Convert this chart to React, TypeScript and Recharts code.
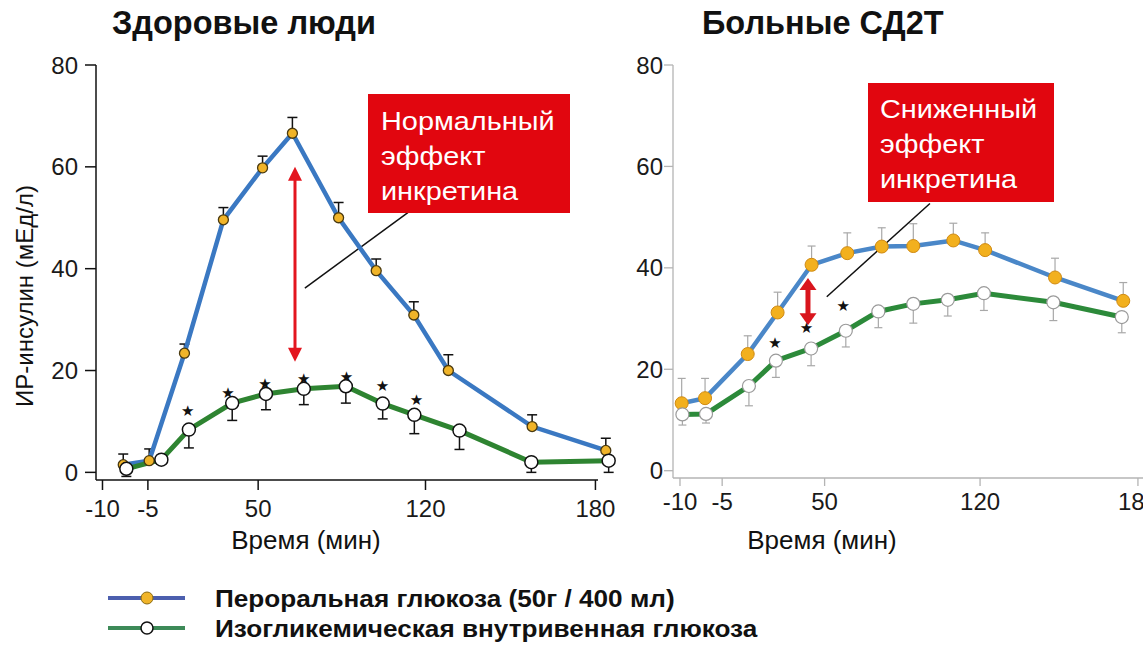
import React from "react"
import { ComposedChart, Line, XAxis, YAxis, ErrorBar, Scatter, ReferenceLine } from "recharts"

const FONT = "'Liberation Sans', Arial, Helvetica, sans-serif"

// ось времени нарисована неравномерно: подписи стоят не на своих минутах
const xTicks = [-10, 7.5, 50, 114.5, 180]
const xTickLabels = ["-10", "-5", "50", "120", "180"]
const yTicks = [0, 20, 40, 60, 80]

// Здоровые люди: пероральная глюкоза
const healthyOralTime = [-2, 8, 21.6, 36.6, 51.7, 63.2, 81, 95.5, 110, 123.3, 155.6, 184]
const healthyOralValue = [1.5, 2.3, 23.4, 49.6, 59.8, 66.6, 50, 39.6, 30.9, 20, 9, 4.3]
const healthyOralErr = [2.1, 2.3, 1.8, 2.4, 2.3, 3.1, 3, 2.3, 2.6, 3.1, 2.3, 2.4]

// Здоровые люди: изогликемическая в/в глюкоза
const healthyIvTime = [-0.8, 12.7, 23.3, 40, 53, 67.6, 83.8, 98, 110.2, 127.6, 155.3, 185.1]
const healthyIvValue = [0.7, 2.5, 8.4, 13.6, 15.4, 16.4, 16.9, 13.5, 11.3, 8.2, 2, 2.3]
const healthyIvErr = [1.5, 0.8, 3.6, 3.4, 3.1, 3.1, 3.3, 3, 3.7, 3.7, 2, 2.3]

const healthyStarTime = [22.9, 38.4, 52.6, 67.6, 84, 97.9, 111]
const healthyStarValue = [12, 15.6, 17.4, 18.3, 18.7, 16.9, 14.3]

// Больные СД2Т
const diabetesOralTime = [-9.3, 0.4, 18.1, 30.5, 44.6, 59.4, 73.7, 86.8, 103.4, 116.6, 145.6, 173.9]
const diabetesOralValue = [13.3, 14.3, 23, 31.2, 40.6, 42.9, 44.2, 44.3, 45.4, 43.5, 38.1, 33.5]
const diabetesOralErr = [4.9, 3.9, 3.6, 4, 3.7, 4, 3.7, 4.4, 3.4, 3.4, 3.8, 3.6]

const diabetesIvTime = [-9, 0.8, 18.6, 29.8, 44.4, 58.8, 72.3, 86.8, 101.1, 116.1, 144.9, 173.3]
const diabetesIvValue = [11.1, 11.2, 16.7, 21.7, 24.1, 27.6, 31.4, 32.9, 33.7, 35, 33.2, 30.3]
const diabetesIvErr = [2.1, 1.8, 3.9, 3.3, 3.4, 3.2, 3.2, 3.8, 3.2, 3.4, 3.6, 3.1]

const diabetesStarTime = [29.4, 42.5, 57.7]
const diabetesStarValue = [25.1, 28.1, 32.4]

// стрелки и выноски (в единицах осей)
const healthyArrow = { t: 64.2, from: 21.7, to: 60 }
const healthyPointer = [{ x: 68, y: 36.2 }, { x: 107.7, y: 51 }]
const diabetesArrow = { t: 43.1, from: 28.7, to: 38 }
const diabetesPointer = [{ x: 50.9, y: 34.3 }, { x: 93.7, y: 52.7 }]

type Row = { t: number; v: number; err?: number | number[] }

function rows(time: number[], value: number[], err?: (number | number[])[]): Row[] {
	return time.map((t, i) => ({ t, v: value[i], err: err ? err[i] : undefined }))
}

const Star = (p: any) => (
	<text x={p.cx} y={p.cy} textAnchor="middle" dominantBaseline="central" fontSize={15} fontFamily="DejaVu Sans" fill="#111">
		★
	</text>
)

function makeArrow(color: string, shaft: number, headW: number, headH: number) {
	return (p: any) => {
		const x = p.x1
		const top = Math.min(p.y1, p.y2)
		const bottom = Math.max(p.y1, p.y2)
		return (
			<g>
				<line x1={x} x2={x} y1={top + headH - 1} y2={bottom - headH + 1} stroke={color} strokeWidth={shaft} />
				<polygon points={`${x},${top} ${x - headW / 2},${top + headH} ${x + headW / 2},${top + headH}`} fill={color} />
				<polygon points={`${x},${bottom} ${x - headW / 2},${bottom - headH} ${x + headW / 2},${bottom - headH}`} fill={color} />
			</g>
		)
	}
}

type PanelProps = {
	left: number
	width: number
	yAxisWidth: number
	margin: { top: number; right: number; bottom: number; left: number }
	xAxisHeight: number
	xDomain: number[]
	yDomain: number[]
	axisColor: string
	axisWidth: number
	tickSize: number
	yTickMargin: number
	xTickSize: number
	xTickMargin: number
	ownXLineEnd?: number
	oral: Row[]
	iv: Row[]
	stars: Row[]
	oralColor: string
	ivColor: string
	oralDot: any
	ivDot: any
	errColor: string
	errWidth: number
	oralCap: number
	ivCap: number
	arrow: { t: number; from: number; to: number }
	arrowShape: (p: any) => React.ReactElement
	pointer: { x: number; y: number }[]
}

function Panel(p: PanelProps) {
	const tickStyle = { fontSize: 24, fill: "#1a1a1a", fontFamily: FONT }
	return (
		<div style={{ position: "absolute", left: p.left, top: 0 }}>
			<ComposedChart width={p.width} height={648} margin={p.margin}>
				<XAxis
					type="number"
					dataKey="t"
					domain={p.xDomain}
					ticks={xTicks}
					interval={0}
					tickFormatter={(v: number) => xTickLabels[xTicks.indexOf(v)]}
					height={p.xAxisHeight}
					tick={tickStyle}
					tickSize={p.xTickSize}
					tickMargin={p.xTickMargin}
					tickLine={{ stroke: p.axisColor, strokeWidth: p.axisWidth }}
					axisLine={p.ownXLineEnd === undefined ? { stroke: p.axisColor, strokeWidth: p.axisWidth } : false}
				/>
				<YAxis
					type="number"
					domain={p.yDomain}
					ticks={yTicks}
					interval={0}
					width={p.yAxisWidth}
					tick={tickStyle}
					tickSize={p.tickSize}
					tickMargin={p.yTickMargin}
					tickLine={{ stroke: p.axisColor, strokeWidth: p.axisWidth }}
					axisLine={{ stroke: p.axisColor, strokeWidth: p.axisWidth }}
				/>
				{p.ownXLineEnd !== undefined && (
					<ReferenceLine
						segment={[{ x: p.xDomain[0], y: p.yDomain[0] }, { x: p.ownXLineEnd, y: p.yDomain[0] }]}
						stroke={p.axisColor}
						strokeWidth={p.axisWidth}
						ifOverflow="visible"
					/>
				)}
				<ReferenceLine
					segment={p.pointer}
					stroke="#111"
					strokeWidth={1.5}
					ifOverflow="visible"
				/>
				<ReferenceLine
					segment={[{ x: p.arrow.t, y: p.arrow.from }, { x: p.arrow.t, y: p.arrow.to }]}
					shape={p.arrowShape}
					ifOverflow="visible"
				/>
				<Line
					data={p.oral}
					dataKey="v"
					type="linear"
					stroke={p.oralColor}
					strokeWidth={4.5}
					dot={p.oralDot}
					activeDot={false}
					isAnimationActive={false}
				>
					<ErrorBar dataKey="err" direction="y" width={p.oralCap} stroke={p.errColor} strokeWidth={p.errWidth} />
				</Line>
				<Line
					data={p.iv}
					dataKey="v"
					type="linear"
					stroke={p.ivColor}
					strokeWidth={5}
					dot={p.ivDot}
					activeDot={false}
					isAnimationActive={false}
				>
					<ErrorBar dataKey="err" direction="y" width={p.ivCap} stroke={p.errColor} strokeWidth={p.errWidth} />
				</Line>
				<Scatter data={p.stars} dataKey="v" shape={Star} isAnimationActive={false} />
			</ComposedChart>
		</div>
	)
}

function Text({ x, y, size, bold, children, anchor = "center", color = "#111", stretch = 1 }: any) {
	const lh = Math.round(size * 1.2)
	const tx = (anchor === "center" ? "translateX(-50%) " : "") + `scaleX(${stretch})`
	return (
		<div
			style={{
				position: "absolute",
				left: x,
				top: y - lh / 2,
				lineHeight: `${lh}px`,
				fontSize: size,
				fontWeight: bold ? 700 : 400,
				fontFamily: FONT,
				color,
				whiteSpace: "nowrap",
				transform: tx,
				transformOrigin: "left center",
			}}
		>
			{children}
		</div>
	)
}

function Callout({ left, top, width, height, lines, padLeft, padTop }: any) {
	return (
		<div
			style={{
				position: "absolute",
				left,
				top,
				width,
				height,
				boxSizing: "border-box",
				background: "#e1060f",
				color: "#fff",
				fontFamily: FONT,
				fontSize: 26,
				lineHeight: "35px",
				paddingLeft: padLeft,
				paddingTop: padTop,
			}}
		>
			{lines.map((l: string) => (
				<div key={l} style={{ transform: "scaleX(1.11)", transformOrigin: "left center", whiteSpace: "nowrap" }}>
					{l}
				</div>
			))}
		</div>
	)
}

export default function App() {
	const healthyOral = rows(healthyOralTime, healthyOralValue, healthyOralErr.map((e) => [0, e]))
	const healthyIv = rows(healthyIvTime, healthyIvValue, healthyIvErr.map((e) => [e, 0]))
	const healthyStars = rows(healthyStarTime, healthyStarValue)
	const diabetesOral = rows(diabetesOralTime, diabetesOralValue, diabetesOralErr.map((e) => [0, e]))
	const diabetesIv = rows(diabetesIvTime, diabetesIvValue, diabetesIvErr.map((e) => [e, 0]))
	const diabetesStars = rows(diabetesStarTime, diabetesStarValue)

	return (
		<div style={{ position: "absolute", left: 0, top: 0, width: 1143, height: 648, background: "#fff", overflow: "hidden" }}>
			<Panel
				left={0}
				width={620}
				yAxisWidth={96}
				margin={{ top: 65, right: 9, bottom: 108, left: 0 }}
				xAxisHeight={60}
				xDomain={[-12.5, 186]}
				yDomain={[-1.5, 80]}
				axisColor="#111"
				axisWidth={1.5}
				tickSize={11}
				yTickMargin={7}
				xTickSize={10}
				xTickMargin={10}
				ownXLineEnd={181}
				oral={healthyOral}
				iv={healthyIv}
				stars={healthyStars}
				oralColor="#3a78c2"
				ivColor="#2e8431"
				oralDot={{ r: 5, fill: "#f0b429", stroke: "#4a3a10", strokeWidth: 1.3 }}
				ivDot={{ r: 6.5, fill: "#fff", stroke: "#111", strokeWidth: 1.5 }}
				errColor="#111"
				errWidth={1.5}
				oralCap={5}
				ivCap={5}
				arrow={healthyArrow}
				arrowShape={makeArrow("#e3161f", 3, 14, 14)}
				pointer={healthyPointer}
			/>
			<Panel
				left={620}
				width={523}
				yAxisWidth={53}
				margin={{ top: 65, right: 0, bottom: 95, left: 0 }}
				xAxisHeight={75}
				xDomain={[-12.9, 182.1]}
				yDomain={[-1.44, 80]}
				axisColor="#b4b4b4"
				axisWidth={1.3}
				tickSize={9}
				yTickMargin={1}
				xTickSize={8}
				xTickMargin={7}
				oral={diabetesOral}
				iv={diabetesIv}
				stars={diabetesStars}
				oralColor="#4a87c8"
				ivColor="#2c8a3a"
				oralDot={{ r: 6.5, fill: "#f2b01e", stroke: "#d08a12", strokeWidth: 1 }}
				ivDot={{ r: 6.5, fill: "#fff", stroke: "#9a9a9a", strokeWidth: 1.2 }}
				errColor="#a8a8a8"
				errWidth={1.2}
				oralCap={4}
				ivCap={4}
				arrow={diabetesArrow}
				arrowShape={makeArrow("#d9151d", 5, 17, 12)}
				pointer={diabetesPointer}
			/>

			<Text x={112} y={23.5} size={32.5} bold anchor="left">Здоровые люди</Text>
			<Text x={702} y={23.5} size={32.5} bold anchor="left">Больные СД2Т</Text>

			<div
				style={{
					position: "absolute",
					left: 25,
					top: 296,
					transform: "translate(-50%, -50%) rotate(-90deg)",
					fontSize: 24,
					fontFamily: FONT,
					color: "#111",
					whiteSpace: "nowrap",
					lineHeight: "28px",
				}}
			>
				ИР-инсулин (мЕд/л)
			</div>
			<Text x={306} y={540} size={26}>Время (мин)</Text>
			<Text x={822} y={540} size={26}>Время (мин)</Text>

			<Callout left={368} top={94} width={202} height={119} padLeft={13} padTop={10} lines={["Нормальный", "эффект", "инкретина"]} />
			<Callout left={868} top={83} width={186} height={119} padLeft={12} padTop={9} lines={["Сниженный", "эффект", "инкретина"]} />

			<svg style={{ position: "absolute", left: 100, top: 585 }} width={95} height={56}>
				<line x1={8} x2={85} y1={13} y2={13} stroke="#4c5fae" strokeWidth={4} />
				<circle cx={47} cy={13} r={6} fill="#f0b429" stroke="#8a6a10" strokeWidth={1} />
				<line x1={8} x2={85} y1={43} y2={43} stroke="#3d8a58" strokeWidth={4} />
				<circle cx={47} cy={43} r={6} fill="#fff" stroke="#111" strokeWidth={1.5} />
			</svg>
			<Text x={215} y={598} size={24} bold anchor="left" stretch={1.09}>Пероральная глюкоза (50г / 400 мл)</Text>
			<Text x={215} y={628} size={24} bold anchor="left" stretch={1.09}>Изогликемическая внутривенная глюкоза</Text>
		</div>
	)
}
